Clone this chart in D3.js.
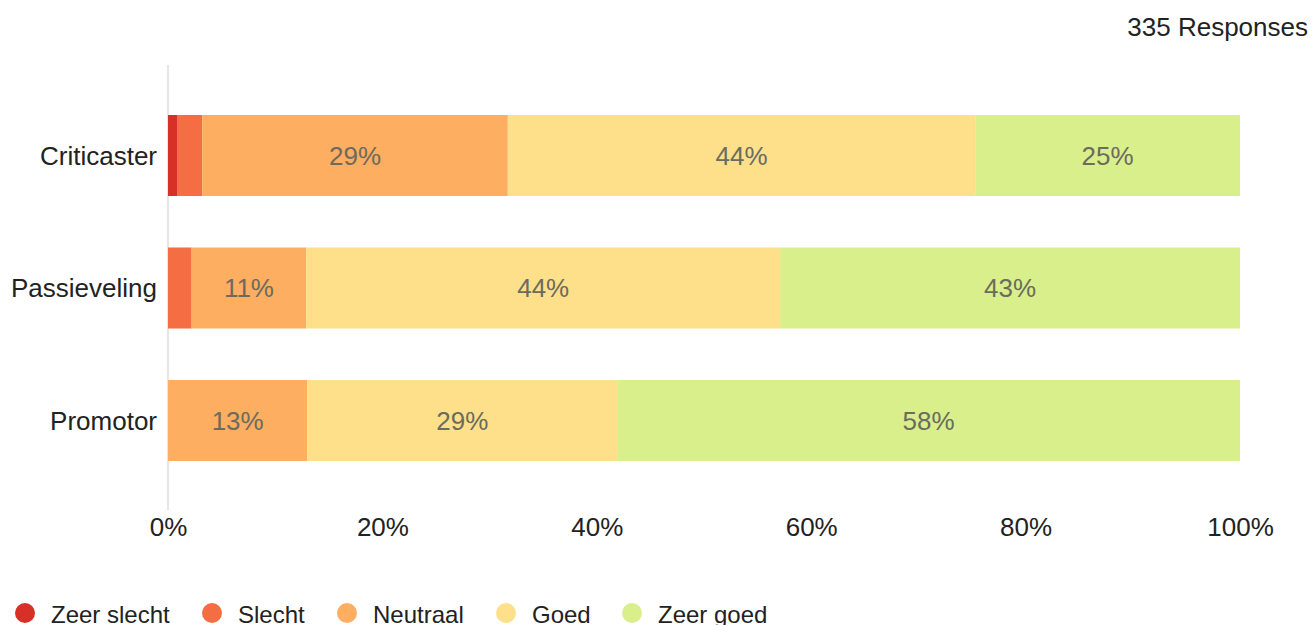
<!DOCTYPE html>
<html><head><meta charset="utf-8">
<script src="https://cdn.jsdelivr.net/npm/d3@7"></script>
<style>html,body{margin:0;padding:0;background:#fff;}svg{display:block;font-family:"Liberation Sans",Arial,sans-serif;}</style>
</head><body>
<svg id="c" width="1312" height="625"></svg>
<script>
const categories = ["Criticaster", "Passieveling", "Promotor"];
const seriesNames = ["Zeer slecht", "Slecht", "Neutraal", "Goed", "Zeer goed"];
const zeerSlecht = [0.9, 0, 0];
const slecht = [2.3, 2.2, 0];
const neutraal = [28.5, 10.7, 13.0];
const goed = [43.6, 44.2, 28.9];
const zeerGoed = [24.7, 42.9, 58.1];
const tickValues = [0, 20, 40, 60, 80, 100];
const colors = ["#d73027", "#f46d43", "#fdae61", "#fee08b", "#d9ef8b"];
const totalLabel = "335 Responses";

const seriesValues = [zeerSlecht, slecht, neutraal, goed, zeerGoed];
const rows = categories.map((c, i) => {
  const o = {cat: c};
  seriesNames.forEach((s, j) => o[s] = seriesValues[j][i]);
  return o;
});
const stack = d3.stack().keys(seriesNames)(rows);

const FS = 26;
const svg = d3.select("#c");
const x = d3.scaleLinear().domain([0, 100]).range([168, 1240]);
const y = d3.scaleBand().domain(categories).range([75.25, 500.75]).paddingInner(0.3887).paddingOuter(0.3);

svg.append("line").attr("x1", x(0)).attr("x2", x(0)).attr("y1", 65).attr("y2", 510)
  .attr("stroke", "#e6e6e6").attr("stroke-width", 2);

const g = svg.append("g");
stack.forEach((layer, j) => {
  const lg = g.append("g").attr("fill", colors[j]);
  lg.selectAll("rect").data(layer).join("rect")
    .attr("x", d => x(d[0])).attr("width", d => x(d[1]) - x(d[0]))
    .attr("y", (d, i) => y(categories[i])).attr("height", y.bandwidth());
  g.append("g").selectAll("text").data(layer.filter(d => d[1] - d[0] >= 5)).join("text")
    .attr("x", d => x((d[0] + d[1]) / 2))
    .attr("y", d => y(d.data.cat) + y.bandwidth() / 2)
    .attr("dy", "0.35em").attr("text-anchor", "middle")
    .attr("font-size", FS).attr("fill", "#6b6b5e")
    .text(d => Math.round(d[1] - d[0]) + "%");
});

svg.append("g").selectAll("text").data(categories).join("text")
  .attr("x", 157).attr("y", d => y(d) + y.bandwidth() / 2).attr("dy", "0.35em")
  .attr("text-anchor", "end").attr("font-size", FS).attr("fill", "#222").text(d => d);

const xa = svg.append("g").attr("transform", "translate(0,527)")
  .call(d3.axisBottom(x).tickValues(tickValues).tickFormat(d => d + "%").tickSize(0).tickPadding(0));
xa.select(".domain").remove();
xa.selectAll("text").attr("font-size", FS).attr("fill", "#222").attr("dy", "0.35em").attr("font-family", null);

svg.append("text").attr("x", 1308).attr("y", 27).attr("dy", "0.35em").attr("text-anchor", "end")
  .attr("font-size", FS).attr("fill", "#222").text(totalLabel);

const legendX = [25, 212, 347, 506, 632];
const leg = svg.append("g").selectAll("g").data(seriesNames).join("g")
  .attr("transform", (d, i) => `translate(${legendX[i]},613)`);
leg.append("circle").attr("r", 10).attr("fill", (d, i) => colors[i]);
leg.append("text").attr("x", 26).attr("y", 2).attr("dy", "0.35em").attr("font-size", 24).attr("fill", "#222").text(d => d);
</script>
</body></html>
